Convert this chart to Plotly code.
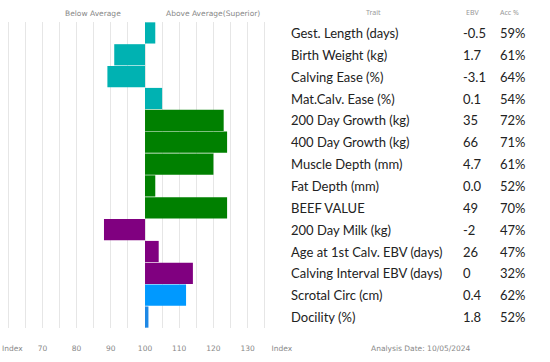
import plotly.graph_objects as go

traits = ["Gest. Length (days)", "Birth Weight (kg)", "Calving Ease (%)", "Mat.Calv. Ease (%)",
          "200 Day Growth (kg)", "400 Day Growth (kg)", "Muscle Depth (mm)", "Fat Depth (mm)",
          "BEEF VALUE", "200 Day Milk (kg)", "Age at 1st Calv. EBV (days)",
          "Calving Interval EBV (days)", "Scrotal Circ (cm)", "Docility (%)"]
index_values = [103, 91, 89, 105, 123, 124, 120, 103, 124, 88, 104, 114, 112, 101]
ebv = ["-0.5", "1.7", "-3.1", "0.1", "35", "66", "4.7", "0.0", "49", "-2", "26", "0", "0.4", "1.8"]
acc = ["59%", "61%", "64%", "54%", "72%", "71%", "61%", "52%", "70%", "47%", "47%", "32%", "62%", "52%"]
colors = ["#00B2B2", "#00B2B2", "#00B2B2", "#00B2B2",
          "#008000", "#008000", "#008000", "#008000", "#008000",
          "#800080", "#800080", "#800080", "#0099FF", "#1E88E5"]
tick_vals = [60, 70, 80, 90, 100, 110, 120, 130, 140]
tick_text = ["", "70", "80", "90", "100", "110", "120", "130", "Index"]
average = 100

W, H = 550, 362
plot_right = 282.5

fig = go.Figure(go.Bar(
    y=traits,
    x=[v - average for v in index_values],
    base=average,
    orientation="h",
    marker=dict(color=colors, line=dict(width=0)),
    hoverinfo="skip",
))

fig.update_layout(
    width=W, height=H,
    margin=dict(l=0, r=W - plot_right, t=22, b=34, autoexpand=False),
    plot_bgcolor="white", paper_bgcolor="white",
    showlegend=False,
    bargap=0.03,
    font=dict(family="DejaVu Sans", color="#888888", size=8),
)
fig.update_xaxes(
    range=[57.6, 140.05],
    tickvals=tick_vals, ticktext=tick_text,
    showgrid=True, gridcolor="#e6e6e6", gridwidth=1,
    minor=dict(dtick=5, showgrid=True, gridcolor="#e6e6e6", gridwidth=1),
    zeroline=False, showline=False, ticks="",
    tickfont=dict(family="DejaVu Sans", size=7.5, color="#888888"),
    ticklabelstandoff=14,
    ticklabeloverflow="allow",
    automargin=False,
)
fig.update_yaxes(
    autorange="reversed", showticklabels=False, showgrid=False,
    zeroline=False, showline=False, automargin=False,
)

def px(x):
    return x / plot_right

ann = []
hdr = dict(family="DejaVu Sans", size=7.5, color="#888888")
ann.append(dict(text="Index", x=0, y=0, yref="paper", yshift=-20, xref="paper",
                showarrow=False, xanchor="left", yanchor="middle", font=hdr))
ann.append(dict(text="Below Average", x=px(93), y=1, yref="paper", yshift=9, xref="paper",
                showarrow=False, xanchor="center", yanchor="middle", font=hdr))
ann.append(dict(text="Above Average(Superior)", x=px(213), y=1, yref="paper", yshift=9, xref="paper",
                showarrow=False, xanchor="center", yanchor="middle", font=hdr))
tfont = dict(family="Noto Sans", size=7, color="#999999")
for t, xc in [("Trait", 374), ("EBV", 473), ("Acc %", 510)]:
    ann.append(dict(text=t, x=px(xc), y=1, yref="paper", yshift=10, xref="paper",
                    showarrow=False, xanchor="center", yanchor="middle", font=tfont))
rfont = dict(family="Lato", size=13, color="#222222")
for i, tr in enumerate(traits):
    ann.append(dict(text=tr, x=px(290), y=tr, xref="paper", yref="y", showarrow=False,
                    xanchor="left", yanchor="middle", font=rfont))
    ann.append(dict(text=ebv[i], x=px(462), y=tr, xref="paper", yref="y", showarrow=False,
                    xanchor="left", yanchor="middle", font=rfont))
    ann.append(dict(text=acc[i], x=px(499), y=tr, xref="paper", yref="y", showarrow=False,
                    xanchor="left", yanchor="middle", font=rfont))
ann.append(dict(text="Analysis Date: 10/05/2024", x=px(422), y=0, yref="paper", yshift=-20,
                xref="paper", showarrow=False, xanchor="center", yanchor="middle", font=hdr))
fig.update_layout(annotations=ann)

fig.write_html("out.html", config={"displayModeBar": False},
               post_script="document.body.style.margin='0';")
